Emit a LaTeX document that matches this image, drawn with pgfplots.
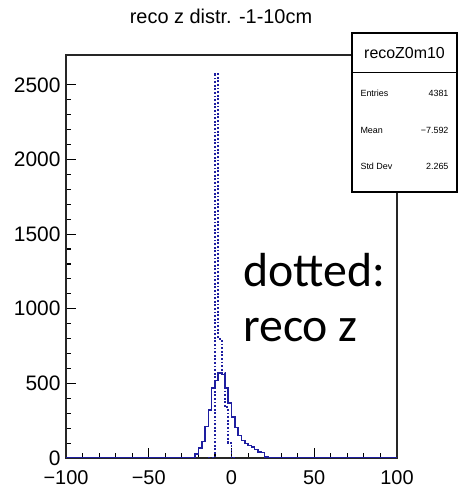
\documentclass[border=0pt]{standalone}
\usepackage{fontspec}
\setmainfont{Liberation Sans}
\newfontfamily\calibri{Carlito}
\usepackage{pgfplots}
\pgfplotsset{compat=1.18}
\definecolor{histblue}{RGB}{30,30,160}
\begin{document}
\begin{tikzpicture}
\path[use as bounding box] (-66bp,-30bp) rectangle (392bp,458bp);
\begin{axis}[
  at={(0,0)}, anchor=south west,
  scale only axis, width=331bp, height=403bp,
  xmin=-100, xmax=100, ymin=0, ymax=2700,
  xtick={-100,-50,0,50,100},
  xticklabels={−100,−50,0,50,100},
  ytick={0,500,1000,1500,2000,2500},
  yticklabels={0,500,1000,1500,2000,2500},
  minor x tick num=4, minor y tick num=4,
  tick align=inside, tick pos=left,
  major tick length=10bp, minor tick length=5bp,
  tick style={black, line width=1.1bp},
  axis line style={black!85, line width=1.6bp},
  x tick label style={font=\fontsize{20}{20}\selectfont, yshift=-9bp},
  y tick label style={font=\fontsize{21}{21}\selectfont, xshift=-2bp},
]
\addplot[const plot, histblue, line width=1.9bp, dash pattern=on 1.8bp off 1.8bp] coordinates {
(-14,0) (-12,0) (-10,2570) (-8,800) (-6,570) (-4,340) (-2,100) (0,0) (2,0)
};
\addplot[const plot, histblue, line width=1.6bp] coordinates {
(-100,0) (-26,0) (-24,3) (-22,25) (-20,65) (-18,110) (-16,210) (-14,320)
(-12,470) (-10,520) (-8,570) (-6,560) (-4,470) (-2,370) (0,275) (2,205)
(4,150) (6,118) (8,98) (10,85) (12,72) (14,58) (16,42) (18,36) (20,8)
(22,3) (24,2) (26,4) (28,2) (30,3) (32,1) (34,2) (36,0) (100,0)
};
\end{axis}
\node[anchor=base, font=\fontsize{20}{20}\selectfont] at (155bp,434bp) {reco z distr. -1-10cm};
\draw[fill=white, line width=1.3bp] (286bp,266bp) rectangle (391bp,425bp);
\draw[line width=1.0bp] (286bp,385bp) -- (391bp,385bp);
\node[font=\fontsize{16}{16}\selectfont] at (338.5bp,405bp) {recoZ0m10};
\node[anchor=west, font=\fontsize{9}{9}\selectfont] at (291bp,365bp) {Entries};
\node[anchor=east, font=\fontsize{9}{9}\selectfont] at (386bp,365bp) {4381};
\node[anchor=west, font=\fontsize{9}{9}\selectfont] at (291bp,328bp) {Mean};
\node[anchor=east, font=\fontsize{9}{9}\selectfont] at (386bp,328bp) {−7.592};
\node[anchor=west, font=\fontsize{9}{9}\selectfont] at (291bp,292bp) {Std Dev};
\node[anchor=east, font=\fontsize{9}{9}\selectfont] at (386bp,292bp) {2.265};
\node[anchor=base west, inner sep=0pt, font=\calibri\fontsize{48}{48}\selectfont] at (177bp,171bp) {dotted:};
\node[anchor=base west, inner sep=0pt, font=\calibri\fontsize{48}{48}\selectfont] at (177bp,116bp) {reco z};
\end{tikzpicture}
\end{document}
